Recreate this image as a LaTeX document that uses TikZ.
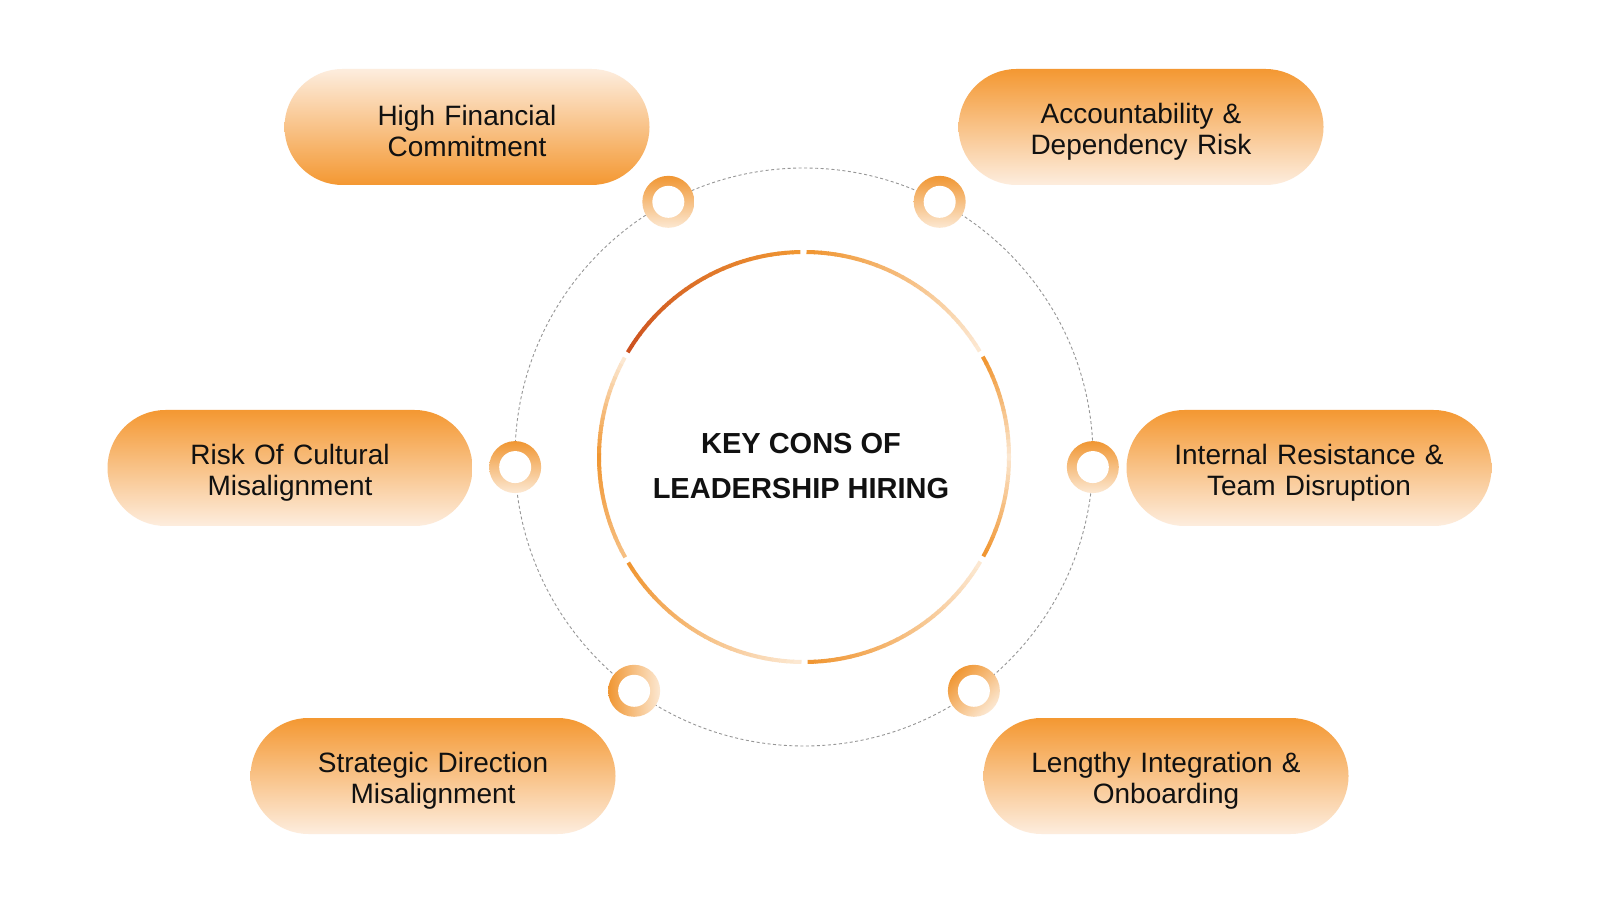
\documentclass[tikz,border=0pt]{standalone}
\usepackage{fontspec}
\setmainfont{Liberation Sans}
\usetikzlibrary{positioning, calc}
\definecolor{cOrange}{RGB}{240,150,50}
\definecolor{cLight}{RGB}{252,232,210}
\definecolor{cRed}{RGB}{205,82,32}
\definecolor{cPillTop}{RGB}{244,152,50}
\definecolor{cPillLow}{RGB}{253,237,222}
\definecolor{cText}{RGB}{17,17,17}
\definecolor{cDash}{RGB}{150,150,150}
\colorlet{cMid}{cOrange!50!cLight}
\colorlet{cRedMid}{cOrange!50!cRed}
\tikzset{
  pill/.style={rectangle, rounded corners=58pt, minimum width=365pt, minimum height=116pt, text width=340pt, align=center, inner sep=0pt, text=cText, text height=29pt, font=\fontsize{28}{31}\selectfont},
  pill down/.style={pill, top color=cPillTop, bottom color=cPillLow},
  pill up/.style={pill, top color=cPillLow, bottom color=cPillTop},
  ringmark/.style={circle, minimum size=52pt, inner sep=0pt, top color=cOrange, bottom color=cLight},
  ringhole/.style={circle, fill=white, minimum size=32pt, inner sep=0pt},
}
\begin{document}
\begin{tikzpicture}[
x=1pt, y=1pt,
hub/.style={align=center, text=cText, font=\fontsize{29}{45}\selectfont\bfseries},
orbit/.style={draw=cDash, line width=0.9pt, dash pattern=on 3pt off 2.5pt},
]
\fill[white] (0,0) rectangle (1600,900);
\useasboundingbox (0,0) rectangle (1600,900);
\coordinate (C) at (804,443);

% dashed orbit
\draw[orbit] (C) circle (289pt);

% inner ring made of six shaded arcs
\foreach \s/\ca/\cb/\cc in {30/cLight/cMid/cOrange, 90/cOrange/cRedMid/cRed, 150/cLight/cOrange/cMid, 210/cOrange/cMid/cLight, 270/cOrange/cMid/cLight, 330/cOrange/cLight/cOrange}
  \foreach \t in {0,...,28}{
    \pgfmathsetmacro\a{\s+1+2*\t}
    \pgfmathtruncatemacro\p{\t<14 ? \t*100/14 : (\t-14)*100/14}
    \ifnum\t<14 \colorlet{segc}{\cb!\p!\ca}\else\colorlet{segc}{\cc!\p!\cb}\fi
    \draw[line width=4pt, segc] ($(C)+(\a:205)$) arc[start angle=\a, end angle=\a+2.3, radius=205pt];
  }

% Define the nodes
\node[hub] (hub) at (801,434) {KEY CONS OF\\LEADERSHIP HIRING};

\foreach \ang/\sa [count=\i] in {-2/0, 62/0, 118/0, 182/0, 234/90, 306/45}{
  \node[ringmark, shading angle=\sa] (ring\i) at ($(C)+(\ang:289)$) {};
  \node[ringhole] (hole\i) at (ring\i) {};
}

\node[pill up]   (fin)  at (467,773)  {High Financial\\Commitment};
\node[pill down] (acc)  at (1141,773) {Accountability \&\\Dependency Risk};
\node[pill down] (cult) at (290,432)  {Risk Of Cultural\\Misalignment};
\node[pill down] (res)  at (1309,432) {Internal Resistance \&\\Team Disruption};
\node[pill down] (str)  at (433,124)  {Strategic Direction\\Misalignment};
\node[pill down] (onb)  at (1166,124) {Lengthy Integration \&\\Onboarding};

\end{tikzpicture}
\end{document}
